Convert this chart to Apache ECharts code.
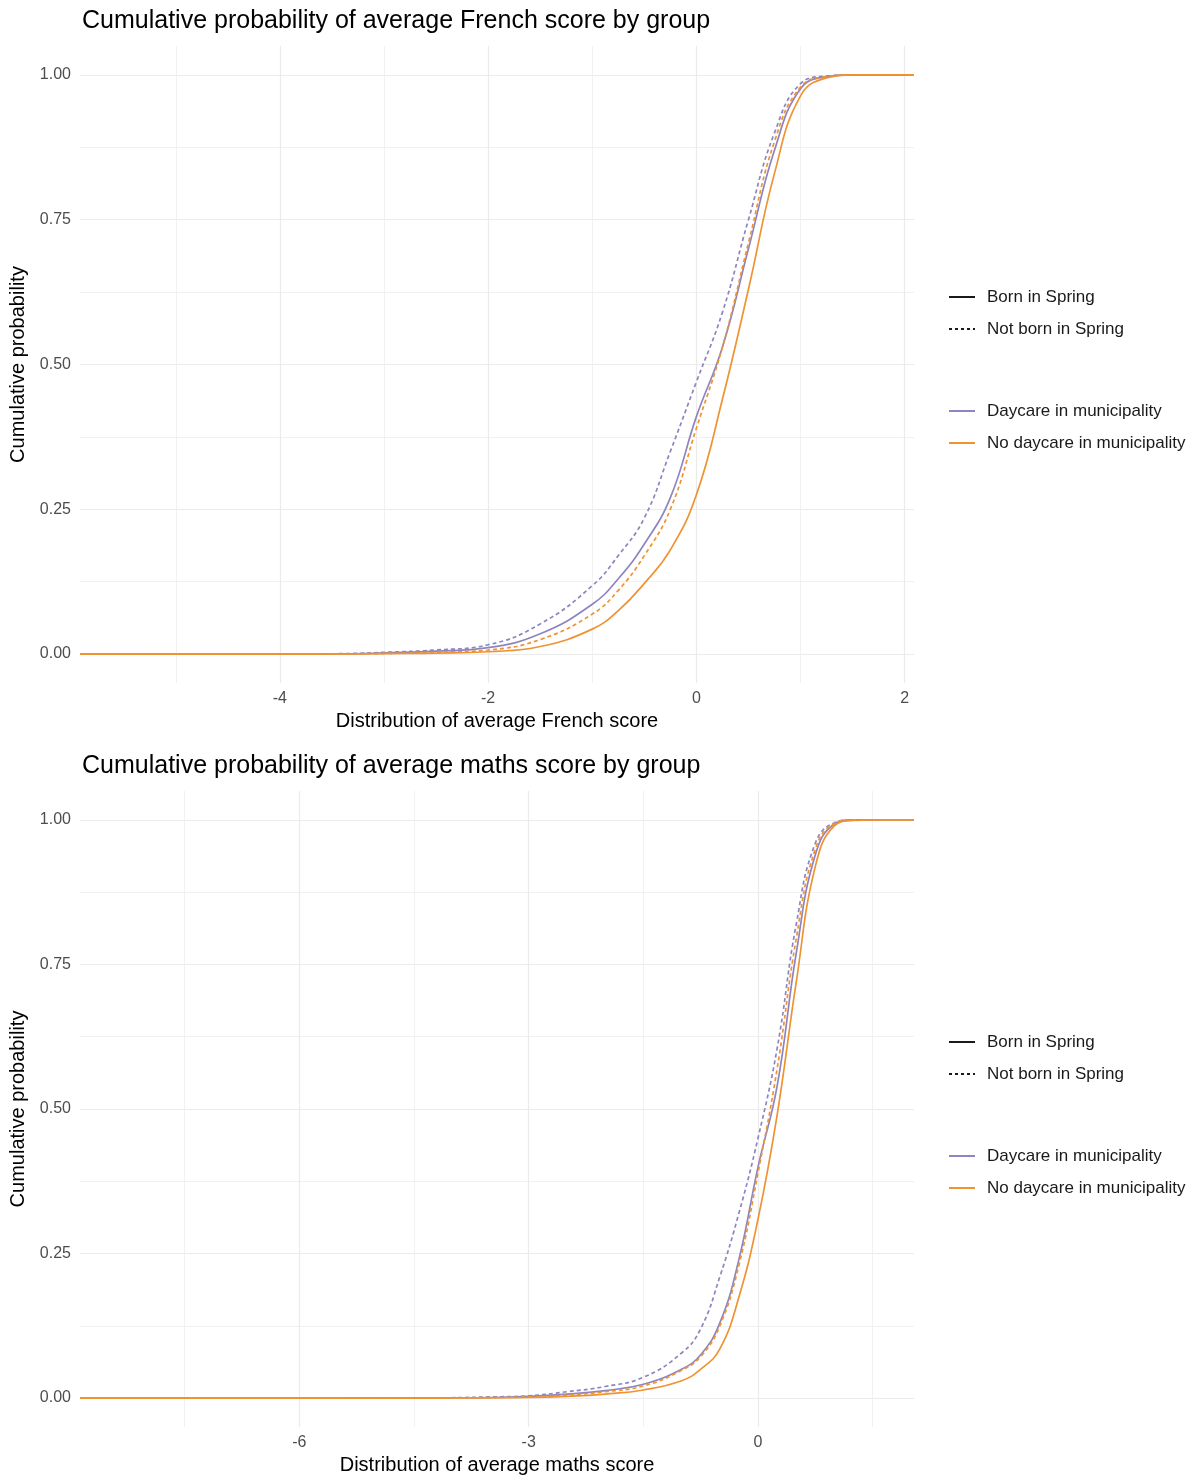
<!DOCTYPE html>
<html>
<head>
<meta charset="utf-8">
<script src="https://cdn.jsdelivr.net/npm/echarts@6/dist/echarts.min.js"></script>
<style>
html,body{margin:0;padding:0;background:#ffffff;}
#chart{width:1195px;height:1479px;}
</style>
</head>
<body>
<div id="chart"></div>
<script>
// ---------- DATA ----------
// French: score grid and cumulative probabilities (first / last points are the -Inf / +Inf pads)
const frenchX = [-5.92, -5.56, -4, -3.3, -3, -2.5, -2, -1.5, -1, -0.75, -0.5, -0.25, 0, 0.25, 0.5, 0.75, 1, 1.25, 1.5, 1.72, 2.09];
const frenchDaycareNotSpring   = [0, 0, 0, 0.001, 0.003, 0.007, 0.016, 0.052, 0.118, 0.17, 0.235, 0.35, 0.47, 0.59, 0.75, 0.9, 0.985, 0.998, 1, 1, 1];
const frenchDaycareSpring      = [0, 0, 0, 0.0005, 0.002, 0.005, 0.011, 0.035, 0.086, 0.13, 0.19, 0.27, 0.41, 0.53, 0.70, 0.87, 0.976, 0.997, 1, 1, 1];
const frenchNoDaycareNotSpring = [0, 0, 0, 0.0003, 0.001, 0.003, 0.007, 0.025, 0.069, 0.11, 0.17, 0.25, 0.39, 0.53, 0.71, 0.885, 0.979, 0.997, 1, 1, 1];
const frenchNoDaycareSpring    = [0, 0, 0, 0.0002, 0.0007, 0.0015, 0.004, 0.013, 0.043, 0.075, 0.122, 0.18, 0.275, 0.44, 0.63, 0.83, 0.964, 0.995, 1, 1, 1];

// Maths
const mathsX = [-8.87, -8.37, -4.2, -3.5, -3, -2.5, -2, -1.5, -1, -0.75, -0.5, -0.25, 0, 0.25, 0.5, 0.75, 1, 1.25, 1.55, 2.04];
const mathsDaycareNotSpring   = [0, 0, 0.0005, 0.002, 0.004, 0.011, 0.02, 0.036, 0.078, 0.12, 0.21, 0.32, 0.45, 0.605, 0.82, 0.96, 0.995, 1, 1, 1];
const mathsDaycareSpring      = [0, 0, 0.0003, 0.001, 0.003, 0.007, 0.013, 0.024, 0.05, 0.075, 0.13, 0.24, 0.40, 0.54, 0.77, 0.94, 0.993, 1, 1, 1];
const mathsNoDaycareNotSpring = [0, 0, 0.0002, 0.0008, 0.002, 0.005, 0.011, 0.021, 0.048, 0.072, 0.125, 0.23, 0.39, 0.57, 0.795, 0.95, 0.994, 1, 1, 1];
const mathsNoDaycareSpring    = [0, 0, 0.0001, 0.0005, 0.001, 0.003, 0.007, 0.014, 0.03, 0.05, 0.085, 0.175, 0.31, 0.49, 0.72, 0.92, 0.99, 0.999, 1, 1];

// Axis ticks
const frenchMajorX = [-4, -2, 0, 2];
const frenchMinorX = [-5, -3, -1, 1];
const mathsMajorX = [-6, -3, 0];
const mathsMinorX = [-7.5, -4.5, -1.5, 1.5];
const majorY = [0, 0.25, 0.5, 0.75, 1];
const minorY = [0.125, 0.375, 0.625, 0.875];

// Labels
const titles = ['Cumulative probability of average French score by group', 'Cumulative probability of average maths score by group'];
const xTitles = ['Distribution of average French score', 'Distribution of average maths score'];
const yTitle = 'Cumulative probability';
const springLegend = ['Born in Spring', 'Not born in Spring'];
const daycareLegend = ['Daycare in municipality', 'No daycare in municipality'];

// ---------- STYLE ----------
const PURPLE = '#8e85c0';
const ORANGE = '#ef9330';
const FONT = 'Liberation Sans';
const LW = 1.7;
const DASH = [4, 3];

const chart = echarts.init(document.getElementById('chart'), null, {renderer: 'canvas'});

const grids = [
  {left: 80, top: 46, width: 834, height: 637},
  {left: 80, top: 791, width: 834, height: 636}
];
const xRanges = [[-5.92, 2.09], [-8.87, 2.04]];
const majorXs = [frenchMajorX, mathsMajorX];
const minorXs = [frenchMinorX, mathsMinorX];

const xAxes = [], yAxes = [];
for (let g = 0; g < 2; g++) {
  xAxes.push({
    type: 'value', gridIndex: g, min: xRanges[g][0], max: xRanges[g][1], position: 'bottom',
    name: xTitles[g], nameLocation: 'middle', nameGap: 28,
    nameTextStyle: {fontSize: 20, color: '#000', fontFamily: FONT},
    axisLine: {show: false},
    axisTick: {show: false, customValues: majorXs[g]},
    axisLabel: {customValues: majorXs[g], color: '#4d4d4d', fontSize: 16, margin: 8, fontFamily: FONT,
      formatter: v => String(v)},
    splitLine: {show: true, lineStyle: {color: '#ebebeb', width: 1.2}}
  });
  xAxes.push({
    type: 'value', gridIndex: g, min: xRanges[g][0], max: xRanges[g][1], position: 'top',
    axisLine: {show: false},
    axisTick: {show: false, customValues: minorXs[g]},
    axisLabel: {show: false},
    splitLine: {show: true, lineStyle: {color: '#efefef', width: 0.9}}
  });
  yAxes.push({
    type: 'value', gridIndex: g, min: -0.05, max: 1.05, position: 'left',
    name: yTitle, nameLocation: 'middle', nameGap: 45, nameRotate: 90,
    nameTextStyle: {fontSize: 20, color: '#000', fontFamily: FONT},
    axisLine: {show: false},
    axisTick: {show: false, customValues: majorY},
    axisLabel: {customValues: majorY, color: '#4d4d4d', fontSize: 16, margin: 9, fontFamily: FONT,
      formatter: v => v.toFixed(2)},
    splitLine: {show: true, lineStyle: {color: '#ebebeb', width: 1.2}}
  });
  yAxes.push({
    type: 'value', gridIndex: g, min: -0.05, max: 1.05, position: 'right',
    axisLine: {show: false},
    axisTick: {show: false, customValues: minorY},
    axisLabel: {show: false},
    splitLine: {show: true, lineStyle: {color: '#efefef', width: 0.9}}
  });
}

function pairs(xs, ys) { return xs.map((x, i) => [x, ys[i]]); }

function curve(name, g, xs, ys, color, dashed) {
  return {
    name: name, type: 'line', xAxisIndex: g * 2, yAxisIndex: g * 2,
    data: pairs(xs, ys), symbol: 'none', smooth: 0.45,
    lineStyle: {color: color, width: LW, type: dashed ? DASH : 'solid'},
    itemStyle: {color: color}, silent: true, z: 3
  };
}

const series = [
  curve('French · Daycare · Born in Spring', 0, frenchX, frenchDaycareSpring, PURPLE, false),
  curve('French · Daycare · Not born in Spring', 0, frenchX, frenchDaycareNotSpring, PURPLE, true),
  curve('French · No daycare · Born in Spring', 0, frenchX, frenchNoDaycareSpring, ORANGE, false),
  curve('French · No daycare · Not born in Spring', 0, frenchX, frenchNoDaycareNotSpring, ORANGE, true),
  curve('Maths · Daycare · Born in Spring', 1, mathsX, mathsDaycareSpring, PURPLE, false),
  curve('Maths · Daycare · Not born in Spring', 1, mathsX, mathsDaycareNotSpring, PURPLE, true),
  curve('Maths · No daycare · Born in Spring', 1, mathsX, mathsNoDaycareSpring, ORANGE, false),
  curve('Maths · No daycare · Not born in Spring', 1, mathsX, mathsNoDaycareNotSpring, ORANGE, true)
];

// legend key series (no data)
const keyDefs = [
  [springLegend[0], '#1a1a1a', false],
  [springLegend[1], '#1a1a1a', true],
  [daycareLegend[0], PURPLE, false],
  [daycareLegend[1], ORANGE, false]
];
keyDefs.forEach(k => {
  series.push({
    name: k[0], type: 'line', xAxisIndex: 0, yAxisIndex: 0, data: [], symbol: 'none',
    lineStyle: {color: k[1], width: LW, type: k[2] ? [3, 3] : 'solid'}, itemStyle: {color: k[1]}
  });
});

function legendAt(top, names) {
  return {
    orient: 'vertical', left: 948, top: top, padding: 0,
    itemWidth: 26, itemHeight: 14, itemGap: 12, selectedMode: false,
    itemStyle: {opacity: 0},
    data: names,
    textStyle: {fontSize: 17, color: '#1a1a1a', fontFamily: FONT, lineHeight: 20, padding: [0, 0, 0, 7]}
  };
}

const option = {
  animation: false,
  backgroundColor: '#ffffff',
  textStyle: {fontFamily: FONT},
  title: [
    {text: titles[0], left: 82, top: 9, padding: 0, textStyle: {fontSize: 25, fontWeight: 'normal', color: '#000', fontFamily: FONT}},
    {text: titles[1], left: 82, top: 754, padding: 0, textStyle: {fontSize: 25, fontWeight: 'normal', color: '#000', fontFamily: FONT}}
  ],
  legend: [
    legendAt(287, springLegend),
    legendAt(401, daycareLegend),
    legendAt(1032, springLegend),
    legendAt(1146, daycareLegend)
  ],
  grid: grids,
  xAxis: xAxes,
  yAxis: yAxes,
  series: series
};
chart.setOption(option);
</script>
</body>
</html>
